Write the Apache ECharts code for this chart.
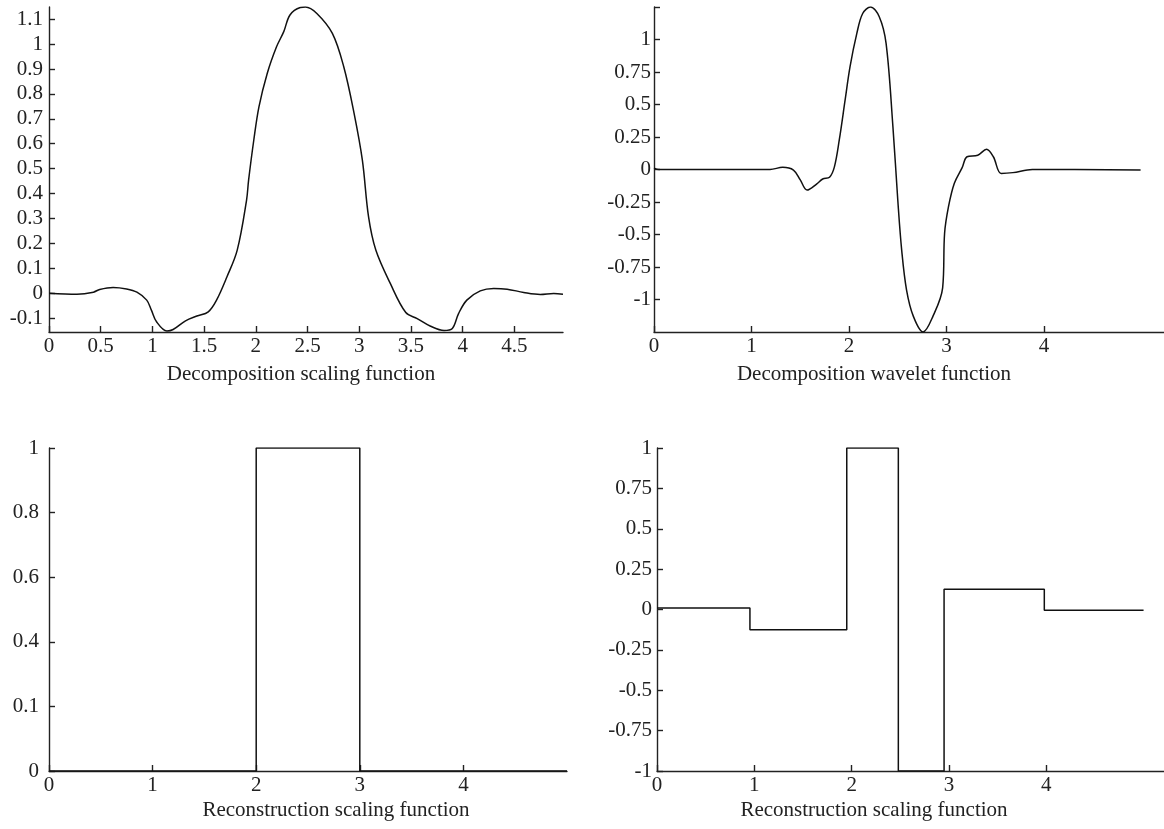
<!DOCTYPE html>
<html>
<head>
<meta charset="utf-8">
<script src="https://cdn.jsdelivr.net/npm/echarts@6/dist/echarts.min.js"></script>
<style>
  html, body { margin: 0; padding: 0; background: #fff; }
  #main { width: 1164px; height: 829px; }
</style>
</head>
<body>
<div id="main"></div>
<script>
// Decomposition scaling function
var decScalX = [0, 0.27, 0.43, 0.49, 0.62, 0.75, 0.85, 0.945, 0.99, 1.04, 1.14, 1.20, 1.32, 1.43, 1.54,
  1.62, 1.72, 1.82, 1.91, 1.93, 1.98, 2.03, 2.11, 2.20, 2.27, 2.33, 2.43, 2.48, 2.59, 2.74, 2.85, 2.95,
  3.03, 3.09, 3.16, 3.30, 3.45, 3.56, 3.69, 3.82, 3.90, 3.96, 4.04, 4.17, 4.30, 4.43, 4.59, 4.75, 4.88, 4.97];
var decScalY = [0, -0.004, 0.004, 0.015, 0.023, 0.017, 0.004, -0.028, -0.068, -0.115, -0.152, -0.146, -0.111, -0.092, -0.075,
  -0.028, 0.065, 0.173, 0.373, 0.454, 0.614, 0.748, 0.882, 0.989, 1.05, 1.117, 1.147, 1.149, 1.123, 1.043, 0.909, 0.722,
  0.534, 0.306, 0.173, 0.039, -0.078, -0.102, -0.133, -0.150, -0.142, -0.082, -0.028, 0.009, 0.019, 0.016, 0.003, -0.005, -0.001, -0.004];

// Decomposition wavelet function
var decWaveX = [0, 0.05, 0.71, 1.19, 1.32, 1.43, 1.50, 1.57, 1.67, 1.73, 1.80, 1.85, 1.90, 1.96, 2.01, 2.08, 2.14,
  2.22, 2.31, 2.38, 2.45, 2.50, 2.54, 2.59, 2.66, 2.76, 2.86, 2.96, 2.98, 3.02, 3.08, 3.16, 3.21, 3.32, 3.41,
  3.48, 3.56, 3.68, 3.88, 4.99];
var decWaveY = [0.01, 0, 0, 0, 0.017, -0.004, -0.08, -0.158, -0.11, -0.073, -0.06, 0.02, 0.227, 0.535, 0.79, 1.047, 1.20,
  1.25, 1.175, 0.97, 0.33, -0.235, -0.62, -0.927, -1.13, -1.25, -1.13, -0.91, -0.49, -0.286, -0.106, 0.014, 0.098, 0.11, 0.155,
  0.098, -0.03, -0.024, 0, -0.004];

// Reconstruction scaling function (left, box) - step points
var recBoxX = [0, 2, 3, 5];
var recBoxY = [0, 1, 0, 0];

// Reconstruction scaling function (right) - step points
var recStepX = [0, 0.955, 1.95, 2.48, 2.95, 3.98, 5];
var recStepY = [0.01, -0.125, 1, -1, 0.125, -0.005, -0.005];

// tick values and labels
var tlXTicks = [0, 0.5, 1, 1.5, 2, 2.5, 3, 3.5, 4, 4.5];
var tlYTicks = [-0.1, 0, 0.1, 0.2, 0.3, 0.4, 0.5, 0.6, 0.7, 0.8, 0.9, 1, 1.1];
var trXTicks = [0, 1, 2, 3, 4];
var trYTicks = [-1, -0.75, -0.5, -0.25, 0, 0.25, 0.5, 0.75, 1];
var trYTickMarks = [-1, -0.75, -0.5, -0.25, 0, 0.25, 0.5, 0.75, 1, 1.25];
var blXTicks = [0, 1, 2, 3, 4];
var blYTicks = [0, 0.2, 0.4, 0.6, 0.8, 1];
var blYLabels = ['0', '0.1', '0.4', '0.6', '0.8', '1'];
var brXTicks = [0, 1, 2, 3, 4];
var brYTicks = [-1, -0.75, -0.5, -0.25, 0, 0.25, 0.5, 0.75, 1];

var titles = ['Decomposition scaling function', 'Decomposition wavelet function',
  'Reconstruction scaling function', 'Reconstruction scaling function'];

function pairs(xs, ys) {
  return xs.map(function (x, i) { return [x, ys[i]]; });
}

var FONT = '"Liberation Serif", "Times New Roman", serif';
var INK = '#222';

function xAxis(idx, min, max, ticks) {
  return {
    type: 'value', gridIndex: idx, min: min, max: max,
    splitLine: { show: false },
    axisLine: { onZero: false, lineStyle: { color: INK, width: 1.4 } },
    axisTick: { inside: true, length: 6, customValues: ticks, lineStyle: { color: INK, width: 1.4 } },
    axisLabel: { customValues: ticks, color: INK, fontFamily: FONT, fontSize: 21, margin: 4 }
  };
}

function yAxis(idx, min, max, ticks, tickMarks, margin, labels) {
  return {
    type: 'value', gridIndex: idx, min: min, max: max,
    splitLine: { show: false },
    axisLine: { onZero: false, lineStyle: { color: INK, width: 1.4 } },
    axisTick: { inside: true, length: 6, customValues: tickMarks || ticks, lineStyle: { color: INK, width: 1.4 } },
    axisLabel: {
      customValues: ticks, color: INK, fontFamily: FONT, fontSize: 21, margin: margin,
      formatter: function (v) {
        if (labels) {
          var k = ticks.indexOf(v);
          return k >= 0 ? labels[k] : '';
        }
        return String(v);
      }
    }
  };
}

function lineSeries(idx, data, extra) {
  var s = {
    type: 'line', xAxisIndex: idx, yAxisIndex: idx, data: data,
    showSymbol: false, symbol: 'none', animation: false,
    lineStyle: { color: '#111', width: 1.5 }
  };
  for (var k in extra) s[k] = extra[k];
  return s;
}

var chart = echarts.init(document.getElementById('main'));

var option = {
  backgroundColor: '#fff',
  animation: false,
  grid: [
    { left: 49, top: 7, width: 514, height: 325 },
    { left: 654, top: 7, width: 510, height: 325 },
    { left: 49, top: 448, width: 518, height: 323 },
    { left: 657, top: 448, width: 507, height: 323 }
  ],
  xAxis: [
    xAxis(0, 0, 4.97, tlXTicks),
    xAxis(1, 0, 5.23, trXTicks),
    xAxis(2, 0, 5, blXTicks),
    xAxis(3, 0, 5.21, brXTicks)
  ],
  yAxis: [
    yAxis(0, -0.156, 1.149, tlYTicks, null, 6),
    yAxis(1, -1.25, 1.25, trYTicks, trYTickMarks, 3),
    yAxis(2, 0, 1, blYTicks, null, 10, blYLabels),
    yAxis(3, -1, 1, brYTicks, null, 5)
  ],
  series: [
    lineSeries(0, pairs(decScalX, decScalY), { smooth: 0.35 }),
    lineSeries(1, pairs(decWaveX, decWaveY), { smooth: 0.35 }),
    lineSeries(2, pairs(recBoxX, recBoxY), { step: 'end' }),
    lineSeries(3, pairs(recStepX, recStepY), { step: 'end' })
  ],
  graphic: [
    { type: 'text', x: 301, y: 374, style: { text: titles[0], font: '21px ' + FONT, fill: INK, textAlign: 'center', textVerticalAlign: 'middle' } },
    { type: 'text', x: 874, y: 374, style: { text: titles[1], font: '21px ' + FONT, fill: INK, textAlign: 'center', textVerticalAlign: 'middle' } },
    { type: 'text', x: 336, y: 810, style: { text: titles[2], font: '21px ' + FONT, fill: INK, textAlign: 'center', textVerticalAlign: 'middle' } },
    { type: 'text', x: 874, y: 810, style: { text: titles[3], font: '21px ' + FONT, fill: INK, textAlign: 'center', textVerticalAlign: 'middle' } }
  ]
};

chart.setOption(option);
</script>
</body>
</html>
